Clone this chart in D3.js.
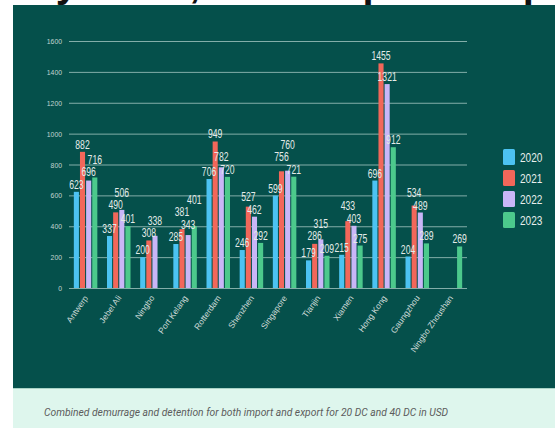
<!DOCTYPE html>
<html><head><meta charset="utf-8">
<script src="https://cdn.jsdelivr.net/npm/d3@7"></script>
<style>body{margin:0;background:#fff;overflow:hidden}svg{display:block}</style>
</head><body>
<script>
// ---- data ----
const categories = ["Antwerp","Jebel Ali","Ningbo","Port Kelang","Rotterdam","Shenzhen","Singapore","Tianjin","Xiamen","Hong Kong","Gaungzhou","Ningbo Zhoushan"];
const seriesNames = ["2020","2021","2022","2023"];
const values2020 = [623, 337, 200, 285, 706, 246, 599, 179, 215, 696, 204, null];
const values2021 = [882, 490, 308, 381, 949, 527, 756, 286, 433, 1455, 534, null];
const values2022 = [696, 506, 338, 343, 782, 462, 760, 315, 403, 1321, 489, null];
const values2023 = [716, 401, null, 401, 720, 292, 721, 209, 275, 912, 289, 269];
const yTicks = [0, 200, 400, 600, 800, 1000, 1200, 1400, 1600];
const titleText = "Demurrage charges by route, most expensive ports 2020–2023";
const captionText = "Combined demurrage and detention for both import and export for 20 DC and 40 DC in USD";

const seriesValues = [values2020, values2021, values2022, values2023];
const colors = ["#4cc3f2", "#f2675a", "#c9b6f7", "#4cc98c"];
const condensed = "Liberation Sans Narrow, Arial Narrow, Liberation Sans, Arial, sans-serif";

const W = 555, H = 428;
const svg = d3.select("body").append("svg").attr("width", W).attr("height", H);

// squeeze a text horizontally to a condensed look
function squeeze(sel, perChar) {
  sel.each(function() {
    const n = this.textContent.length;
    d3.select(this).attr("textLength", n * perChar).attr("lengthAdjust", "spacingAndGlyphs");
  });
}

// panels
svg.append("rect").attr("x", 13).attr("y", 5).attr("width", W - 13).attr("height", 383).attr("fill", "#05504b");
svg.append("rect").attr("x", 13).attr("y", 388).attr("width", W - 13).attr("height", H - 388).attr("fill", "#def6ed");
svg.append("line").attr("x1", 13).attr("x2", W).attr("y1", 388.5).attr("y2", 388.5).attr("stroke", "#a9d3c6").attr("stroke-width", 1);

svg.append("text").attr("x", 44).attr("y", 416)
  .attr("font-family", "Roboto, Arial, sans-serif").attr("font-style", "italic")
  .attr("font-size", 10.3).attr("fill", "#5c5c5c")
  .text(captionText);

// scales
const x0 = d3.scaleBand().domain(categories).range([69, 467]).paddingInner(0).paddingOuter(0);
const groupW = 23.5;
const x1 = d3.scaleBand().domain(seriesNames)
  .range([(x0.bandwidth() - groupW) / 2, (x0.bandwidth() + groupW) / 2]).paddingInner(0.17);
const y = d3.scaleLinear().domain([0, 1600]).range([288, 41]);

// grid + y axis
const yAxis = d3.axisLeft(y).tickValues(yTicks).tickSize(-(467 - 69)).tickFormat(d3.format("d"));
const ga = svg.append("g").attr("transform", "translate(69,0)").call(yAxis);
ga.select(".domain").remove();
ga.selectAll(".tick line").attr("stroke", "#a3c6c0").attr("stroke-opacity", 0.8);
ga.selectAll(".tick text").attr("x", -7).attr("fill", "#c3d5d1")
  .attr("font-family", condensed).attr("font-size", 8).call(squeeze, 3.8);

// x axis labels
const gx = svg.append("g").attr("transform", "translate(0,288)")
  .call(d3.axisBottom(x0).tickSize(0).tickPadding(0));
gx.select(".domain").remove();
gx.selectAll(".tick text")
  .attr("fill", "#cddad7").attr("font-family", "Liberation Sans, Arial, sans-serif")
  .attr("font-size", 8.5).attr("text-anchor", "end").attr("dy", 0).attr("y", 0)
  .attr("transform", "translate(3,10) rotate(-55)");

// bars
const groups = svg.append("g").selectAll("g").data(categories).join("g")
  .attr("transform", d => `translate(${x0(d)},0)`);
groups.each(function(cat, ci) {
  const g = d3.select(this);
  const items = seriesNames.map((s, si) => ({ s, si, v: seriesValues[si][ci] })).filter(d => d.v != null);
  g.selectAll("rect").data(items).join("rect")
    .attr("x", d => x1(d.s)).attr("width", x1.bandwidth())
    .attr("y", d => y(d.v)).attr("height", d => y(0) - y(d.v))
    .attr("fill", d => colors[d.si]);
  // labels: greedy placement, lowest values first, pushed upward when they collide
  const placed = [];
  const order = items.slice().sort((a, b) => a.v - b.v);
  order.forEach(d => {
    const cx = x1(d.s) + x1.bandwidth() / 2;
    const t = g.append("text")
      .attr("font-family", condensed)
      .attr("font-size", 12).attr("fill", "#e4ebe9").attr("text-anchor", "middle")
      .attr("x", cx)
      .text(d.v);
    squeeze(t, 4.8);
    const w = String(d.v).length * 4.8;
    let b = y(d.v) - 3;
    const hgt = 12.5;
    let moved = true;
    while (moved) {
      moved = false;
      for (const p of placed) {
        const xo = Math.abs(p.cx - cx) < (p.w + w) / 2 - 1;
        const yo = b > p.b - hgt && b - hgt < p.b;
        if (xo && yo) { b = p.b - hgt; moved = true; }
      }
    }
    placed.push({ cx, w, b });
    t.attr("y", b);
  });
});

// legend
const lg = svg.append("g").selectAll("g").data(seriesNames).join("g")
  .attr("transform", (d, i) => `translate(503,${157 + i * 21})`);
lg.append("rect").attr("x", 0).attr("y", -8).attr("width", 12).attr("height", 16).attr("rx", 1.5)
  .attr("fill", (d, i) => colors[i]);
lg.append("text").attr("x", 17).attr("y", 4.5)
  .attr("font-family", condensed)
  .attr("font-size", 13).attr("fill", "#e8eeec").text(d => d)
  .call(squeeze, 5.6);

// title (cut off at the top of the picture, only its descenders show)
svg.append("clipPath").attr("id", "titleClip")
  .append("rect").attr("x", 0).attr("y", 0).attr("width", W).attr("height", 5);
const titleG = svg.append("g").attr("clip-path", "url(#titleClip)");
titleG.append("rect").attr("x", 0).attr("y", 0).attr("width", W).attr("height", 5).attr("fill", "#fff");
const title = titleG.append("text")
  .attr("y", -3.5)
  .attr("font-family", "Liberation Sans, Arial, sans-serif")
  .attr("font-weight", "bold").attr("font-size", 40).attr("fill", "#111")
  .text(titleText);
{
  const idx = titleText.indexOf("charges") + 6; // the 'g'
  const p = title.node().getStartPositionOfChar(idx);
  title.attr("x", -p.x - 2);
}
</script>
</body></html>
